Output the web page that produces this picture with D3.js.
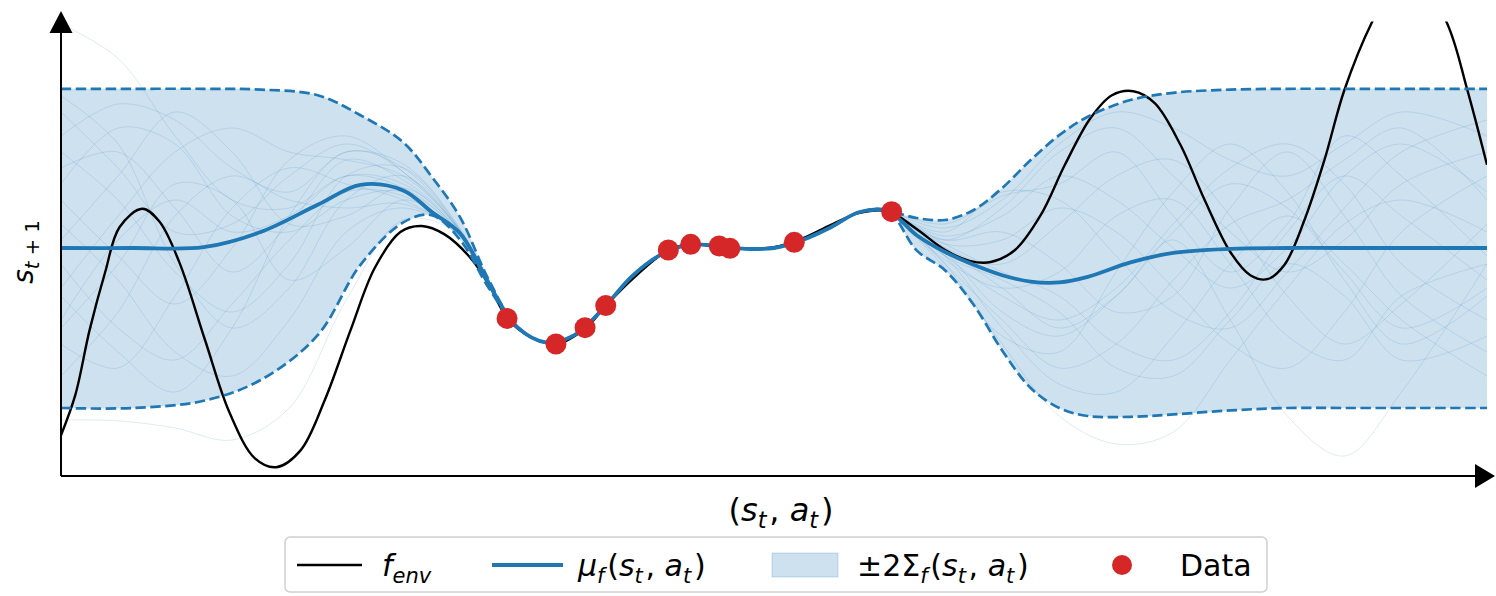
<!DOCTYPE html>
<html>
<head>
<meta charset="utf-8">
<script src="https://cdn.jsdelivr.net/npm/d3@7"></script>
<style>
  body { margin: 0; background: #fff; }
  svg { display: block; }
  text { font-family: "DejaVu Sans", sans-serif; white-space: pre; }
</style>
</head>
<body>
<svg id="chart" width="1496" height="596"></svg>
<script>
// ---- Posterior of the GP on a common input grid ----
const X_GRID = [0, 5, 10, 14, 18, 21, 24, 26, 28, 30, 32, 34, 36, 38, 40, 42, 44, 46, 48, 50,
                52, 54, 56, 58, 60, 62, 64, 66, 68, 70, 72, 75, 78, 82, 86, 90, 95, 100];
const MEAN  = [0, 0, 0.01, 0.2, 0.54, 0.79, 0.72, 0.45, 0.18, -0.45, -0.99, -1.18, -1.09, -0.76, -0.36, -0.09, 0.04, 0.025, -0.01, 0,
               0.10, 0.26, 0.45, 0.46, 0.16, -0.05, -0.21, -0.34, -0.42, -0.43, -0.36, -0.18, -0.06, -0.01, 0, 0, 0, 0];
const UPPER = [1.99, 1.99, 1.99, 1.98, 1.91, 1.66, 1.32, 0.89, 0.38, -0.40, -0.99, -1.18, -1.09, -0.76, -0.36, -0.09, 0.04, 0.025, -0.01, 0,
               0.10, 0.26, 0.45, 0.46, 0.375, 0.35, 0.475, 0.75, 1.10, 1.41, 1.64, 1.85, 1.94, 1.98, 1.99, 1.99, 1.99, 1.99];
const LOWER = [-2.0, -2.0, -1.91, -1.65, -1.09, -0.21, 0.32, 0.41, 0.1, -0.50, -0.99, -1.18, -1.09, -0.76, -0.36, -0.09, 0.04, 0.025, -0.01, 0,
               0.10, 0.26, 0.45, 0.46, -0.03, -0.28, -0.71, -1.28, -1.75, -2.0, -2.1, -2.11, -2.08, -2.03, -2.0, -2.0, -2.0, -2.0];

// ---- True environment dynamics ----
const ENV_X = [0, 1, 2, 3.1, 4.1, 5.7, 6.9, 8.3, 10.1, 11.8, 13.6, 15.1, 16.8, 18.5, 20.3, 22, 23.8, 25.3, 26.9, 28.7,
               30, 31.3, 32.9, 34.7, 36.8, 38.2, 40.3, 42.6, 44.2, 46.1, 48, 50, 52, 54, 56, 58, 59.9, 62, 63.7, 65.2,
               66.9, 68.7, 70.4, 72.2, 73.7, 75.2, 76.7, 78.5, 80.2, 82, 83.4, 84.6, 85.8, 87.2, 88.6, 90, 91.9, 94.5, 97.2, 98.6, 100];
const ENV_Y = [-2.34, -1.84, -1.03, -0.30, 0.26, 0.49, 0.33, -0.18, -1.15, -2.05, -2.63, -2.74, -2.53, -1.90, -1.03, -0.25, 0.20, 0.275, 0.17, -0.12,
               -0.45, -0.88, -1.11, -1.20, -1.0, -0.72, -0.35, -0.025, 0.05, 0.025, -0.01, 0.01, 0.12, 0.29, 0.44, 0.46, 0.25, -0.025, -0.16, -0.175,
               -0.025, 0.41, 1.04, 1.625, 1.91, 1.96, 1.81, 1.29, 0.60, -0.05, -0.34, -0.39, -0.21, 0.35, 1.10, 1.975, 2.81, 3.6, 2.81, 1.99, 1.04];

// ---- Observed transitions ----
const DATA_X = [31.28, 34.71, 36.75, 38.20, 42.59, 44.16, 46.16, 46.91, 51.42, 58.25];
const DATA_Y = [-0.88, -1.20, -0.996, -0.72, -0.025, 0.046, 0.025, -0.004, 0.071, 0.454];

// ---- Function draws from the GP, left and right of the observed region ----
const LEFT_SAMPLE_X = [0, 4, 8, 12, 16, 20, 24, 28, 31.28];
const LEFT_SAMPLES = [
  [1.2, 0.6, -0.3, -0.8, -0.2, 0.9, 1.0, 0.22, -0.88],
  [-0.5, 0.4, 1.2, 1.5, 1.2, 1.1, 0.9, 0.2, -0.88],
  [0.8, 1.5, 1.3, 0.4, 0.2, 0.6, 0.7, 0.17, -0.88],
  [-1.2, -1.5, -0.6, 0.5, 1.0, 0.8, 0.6, 0.15, -0.88],
  [1.7, 1.0, 0.2, 0.3, 0.9, 1.3, 0.95, 0.22, -0.88],
  [0.3, -0.4, -1.3, -1.6, -0.9, 0.2, 0.5, 0.14, -0.88],
  [-0.9, 0.1, 0.6, 0.2, 0.4, 0.9, 0.8, 0.18, -0.88],
  [1.0, 1.2, 0.5, -0.3, 0.3, 1.1, 0.85, 0.2, -0.88],
  [-1.6, -0.8, 0.4, 0.9, 0.6, 0.5, 0.55, 0.16, -0.88],
  [0.6, -0.1, -0.7, 0.0, 1.1, 1.4, 0.95, 0.21, -0.88],
  [1.4, 1.8, 1.6, 1.0, 0.7, 1.2, 1.05, 0.24, -0.88],
  [-0.2, -1.0, -1.4, -0.7, 0.1, 0.7, 0.65, 0.17, -0.88],
  [0.1, 0.9, 1.7, 1.2, 0.3, 0.4, 0.75, 0.18, -0.88],
  [-1.0, -0.2, 0.8, 0.6, -0.4, 0.0, 0.6, 0.15, -0.88],
  [1.9, 1.3, -0.2, -1.0, -0.5, 0.6, 0.9, 0.2, -0.88],
  [-0.6, -1.3, -1.8, -1.0, 0.4, 1.2, 1.0, 0.22, -0.88],
  [2.8, 2.37, 1.4, 0.6, 0.5, 0.9, 0.75, 0.18, -0.88],
  [-2.15, -2.16, -2.25, -2.4, -2.0, -0.65, 0.35, 0.16, -0.88]
];
const RIGHT_SAMPLE_X = [58.25, 62, 66, 70, 74, 78, 82, 86, 90, 94, 100];
const RIGHT_SAMPLES = [
  [0.454, 0.1, 0.5, 1.2, 1.5, 0.9, 0.2, -0.3, 0.1, 0.8, 1.2],
  [0.454, -0.1, -0.6, -0.9, -0.5, 0.3, 1.0, 1.3, 0.8, -0.2, -0.9],
  [0.454, 0.0, -0.2, 0.3, 0.9, 1.1, 0.4, -0.6, -1.2, -0.7, 0.3],
  [0.454, -0.2, -0.9, -1.5, -1.2, -0.4, 0.3, 0.6, 1.1, 1.5, 0.6],
  [0.454, 0.05, -0.3, -0.6, -1.2, -1.4, -0.8, 0.2, 0.9, 0.4, -0.4],
  [0.454, 0.2, 0.7, 0.6, -0.1, -0.8, -1.0, -0.3, 0.5, 1.2, 1.6],
  [0.454, -0.15, -0.5, -0.3, 0.4, 0.6, -0.2, -1.1, -1.4, -0.6, -0.2],
  [0.454, 0.1, 0.2, -0.2, -0.8, -0.6, 0.5, 1.2, 0.4, -0.6, -1.3],
  [0.454, -0.05, -0.8, -1.1, -0.6, 0.2, 0.8, 0.5, -0.3, -1.0, -0.5],
  [0.454, 0.15, 0.4, 0.9, 0.6, 0.0, -0.5, 0.0, 0.9, 1.3, 0.7],
  [0.454, 0.05, 0.1, 0.5, 0.2, -0.5, -1.2, -1.5, -0.8, 0.2, 0.9],
  [0.454, -0.25, -1.1, -1.3, -0.3, 0.7, 1.3, 0.7, -0.4, -1.2, -0.6],
  [0.454, 0.3, 0.65, 0.8, 1.2, 0.4, -0.3, 0.3, 1.4, 0.9, -0.1],
  [0.454, -0.1, -0.4, -0.8, -1.5, -1.6, -0.9, -0.2, -0.6, -1.4, -1.1],
  [0.454, 0.25, 0.6, 1.3, 1.7, 1.5, 1.1, 0.9, 1.3, 1.7, 1.4],
  [0.454, -0.1, -1.0, -1.7, -1.8, -1.1, -0.2, 0.4, -0.2, -0.9, -1.6],
  [0.454, -0.2, -1.2, -2.1, -2.45, -2.3, -1.4, -0.5, 0.3, 0.6, 0.2],
  [0.454, 0.0, -0.5, -1.0, -0.6, 0.1, -0.9, -2.1, -2.6, -1.8, -0.2]
];

// ---- Text: pieces of each math label (it = italic, sub = subscript) ----
const X_LABEL = [{t: "("}, {t: "s", it: 1}, {t: "t", it: 1, sub: 1}, {t: ", "}, {t: "a", it: 1}, {t: "t", it: 1, sub: 1}, {t: ")"}];
const Y_LABEL = [{t: "s", it: 1}, {t: "t", it: 1, sub: 1}, {t: " + 1", sub: 1}];
const LEGEND_LABELS = [
  [{t: "f", it: 1}, {t: "env", it: 1, sub: 1}],
  [{t: "μ", it: 1}, {t: "f", it: 1, sub: 1}, {t: "("}, {t: "s", it: 1}, {t: "t", it: 1, sub: 1}, {t: ", "}, {t: "a", it: 1}, {t: "t", it: 1, sub: 1}, {t: ")"}],
  [{t: "±2Σ"}, {t: "f", it: 1, sub: 1}, {t: "("}, {t: "s", it: 1}, {t: "t", it: 1, sub: 1}, {t: ", "}, {t: "a", it: 1}, {t: "t", it: 1, sub: 1}, {t: ")"}],
  [{t: "Data"}]
];

const BLUE = "#1f77b4", RED = "#d62728";

const svg = d3.select("#chart");
const x = d3.scaleLinear().domain([0, 100]).range([61, 1487]);
const y = d3.scaleLinear().domain([-2.85, 2.85]).range([476, 20]);
const smooth = d3.curveCatmullRom.alpha(0.5);

svg.append("defs").append("clipPath").attr("id", "plotclip")
  .append("rect")
  .attr("x", x(0)).attr("y", y(2.83))
  .attr("width", x(100) - x(0)).attr("height", y(-2.85) - y(2.83));

const plot = svg.append("g").attr("clip-path", "url(#plotclip)");
const idx = d3.range(X_GRID.length);

// confidence band
plot.append("path")
  .attr("d", d3.area()
    .x(i => x(X_GRID[i])).y0(i => y(LOWER[i])).y1(i => y(UPPER[i]))
    .curve(smooth)(idx))
  .attr("fill", BLUE).attr("fill-opacity", 0.22).attr("stroke", "none");

// function draws
function drawSamples(xs, rows) {
  const gen = d3.line().x((d, i) => x(xs[i])).y(d => y(d)).curve(smooth);
  plot.append("g").selectAll("path").data(rows).join("path")
    .attr("d", d => gen(d))
    .attr("fill", "none").attr("stroke", BLUE).attr("stroke-opacity", 0.15).attr("stroke-width", 1);
}
drawSamples(LEFT_SAMPLE_X, LEFT_SAMPLES);
drawSamples(RIGHT_SAMPLE_X, RIGHT_SAMPLES);

// environment function
plot.append("path")
  .attr("d", d3.line().x((d, i) => x(ENV_X[i])).y(d => y(d)).curve(smooth)(ENV_Y))
  .attr("fill", "none").attr("stroke", "#000").attr("stroke-width", 2.4);

// band edges
const edge = arr => d3.line().x(i => x(X_GRID[i])).y(i => y(arr[i])).curve(smooth)(idx);
[UPPER, LOWER].forEach(arr => {
  plot.append("path").attr("d", edge(arr))
    .attr("fill", "none").attr("stroke", BLUE).attr("stroke-width", 2.7)
    .attr("stroke-dasharray", "10.4,4.5");
});

// posterior mean
plot.append("path").attr("d", edge(MEAN))
  .attr("fill", "none").attr("stroke", BLUE).attr("stroke-width", 3.8);

// observations
svg.append("g").selectAll("circle").data(DATA_X).join("circle")
  .attr("cx", d => x(d)).attr("cy", (d, i) => y(DATA_Y[i])).attr("r", 10.5)
  .attr("fill", RED);

// axes with arrow heads
const axes = svg.append("g");
const ay = y(-2.85);
axes.append("line").attr("x1", x(0)).attr("x2", 1478).attr("y1", ay).attr("y2", ay)
  .attr("stroke", "#000").attr("stroke-width", 2);
axes.append("line").attr("x1", x(0)).attr("x2", x(0)).attr("y1", ay).attr("y2", 30)
  .attr("stroke", "#000").attr("stroke-width", 2);
axes.append("path").attr("d", `M${x(0)},11 L${x(0) - 11.5},33 L${x(0) + 11.5},33 Z`).attr("fill", "#000");
axes.append("path").attr("d", `M1495,${ay} L1475,${ay - 12} L1475,${ay + 12} Z`).attr("fill", "#000");

// math-style text builder: subscripts are smaller and lowered, with a little room after them
function mathText(parent, parts, size) {
  const t = parent.append("text").attr("font-size", size).attr("fill", "#000");
  let cur = 0, prevSub = false;
  parts.forEach(p => {
    const off = p.sub ? size * 0.22 : 0;
    t.append("tspan")
      .attr("dx", prevSub && !p.sub ? size * 0.09 : 0)
      .attr("dy", off - cur)
      .attr("font-style", p.it ? "italic" : "normal")
      .attr("font-size", p.sub ? size * 0.7 : size)
      .text(p.t);
    cur = off;
    prevSub = !!p.sub;
  });
  return t;
}

// axis labels
mathText(svg.append("g").attr("transform", "translate(781,521)"), X_LABEL, 32).attr("text-anchor", "middle");
mathText(svg.append("g").attr("transform", "translate(33,252) rotate(-90)"), Y_LABEL, 28).attr("text-anchor", "middle");

// legend
const lg = svg.append("g");
lg.append("rect").attr("x", 285).attr("y", 537).attr("width", 982).attr("height", 55).attr("rx", 5)
  .attr("fill", "#fff").attr("fill-opacity", 0.8).attr("stroke", "#d0d0d0").attr("stroke-width", 1.5);
const ly = 565;
lg.append("line").attr("x1", 297).attr("x2", 362).attr("y1", ly).attr("y2", ly).attr("stroke", "#000").attr("stroke-width", 2.4);
lg.append("line").attr("x1", 492).attr("x2", 563).attr("y1", ly).attr("y2", ly).attr("stroke", BLUE).attr("stroke-width", 3.8);
lg.append("rect").attr("x", 772).attr("y", 553).attr("width", 66).attr("height", 24)
  .attr("fill", BLUE).attr("fill-opacity", 0.22).attr("stroke", BLUE).attr("stroke-opacity", 0.22);
lg.append("circle").attr("cx", 1122).attr("cy", ly).attr("r", 10).attr("fill", RED);
const LEGEND_TEXT_X = [382, 578, 857, 1180];
LEGEND_LABELS.forEach((parts, i) => {
  mathText(lg.append("g").attr("transform", `translate(${LEGEND_TEXT_X[i]},576)`), parts, 30);
});
</script>
</body>
</html>
